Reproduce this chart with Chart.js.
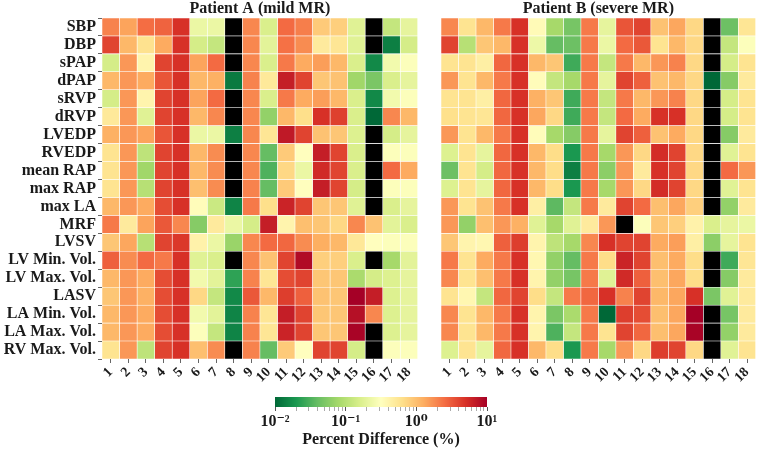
<!DOCTYPE html>
<html>
<head>
<meta charset="utf-8">
<script src="https://cdn.jsdelivr.net/npm/chart.js@4.4.1/dist/chart.umd.min.js"></script>
<style>
  body { margin: 0; background: #fff; }
  .box { position: absolute; }
</style>
</head>
<body>
<div class="box" style="left:0;top:0"><canvas id="hmA" width="422" height="390"></canvas></div>
<div class="box" style="left:439px;top:0"><canvas id="hmB" width="321" height="390"></canvas></div>
<div class="box" style="left:253px;top:388px"><canvas id="cbar" width="256" height="61"></canvas></div>
<script>
const rowLabels = ["SBP", "DBP", "sPAP", "dPAP", "sRVP", "dRVP", "LVEDP", "RVEDP", "mean RAP", "max RAP",
  "max LA", "MRF", "LVSV", "LV Min. Vol.", "LV Max. Vol.", "LASV", "LA Min. Vol.", "LA Max. Vol.", "RV Max. Vol."];
const colLabels = ["1", "2", "3", "4", "5", "6", "7", "8", "9", "10", "11", "12", "13", "14", "15", "16", "17", "18"];

// percent difference per row (parameter) and column (case); 0 = no value (black)
const patientA = [
  [2.0, 1.4, 2.5, 2.8, 5, 0.22, 0.22, 0, 1.9, 0.16, 2.6, 2.1, 0.85, 0.8, 0.18, 0, 0.12, 0.2],
  [4, 1.1, 0.6, 1.3, 5, 0.15, 0.12, 0, 1.9, 0.19, 2.4, 1.8, 0.5, 0.55, 0.18, 0, 0.014, 0.15],
  [0.15, 1.6, 0.4, 4, 5, 1.4, 2.6, 0, 1.9, 0.16, 2.2, 1.3, 1.5, 1.1, 0.16, 0.016, 0.25, 0.3],
  [1.1, 1.6, 1.3, 3.3, 5, 1.1, 1.2, 0.013, 2.0, 0.52, 6.5, 4, 0.9, 0.95, 0.075, 0.05, 0.16, 0.2],
  [0.15, 1.6, 0.4, 4, 5, 1.4, 2.6, 0, 1.9, 0.16, 2.2, 1.3, 1.5, 1.1, 0.16, 0.016, 0.25, 0.3],
  [0.52, 1.6, 0.18, 4, 5, 1.1, 1.9, 0, 1.9, 0.065, 1.1, 0.63, 5, 4.2, 0.16, 0.01, 1.9, 1.1],
  [1.2, 1.6, 1.4, 3.3, 5, 0.22, 0.22, 0.014, 1.9, 0.55, 7, 4, 0.95, 0.9, 0.17, 0, 0.15, 0.2],
  [0.58, 1.6, 0.11, 4, 5, 1.1, 1.8, 0, 1.9, 0.04, 0.85, 0.32, 6.5, 4, 0.16, 0, 0.3, 0.3],
  [0.58, 1.6, 0.075, 4, 5, 1.1, 1.8, 0, 1.9, 0.032, 0.7, 0.22, 5.5, 4, 0.16, 0, 2.6, 1.3],
  [0.58, 1.6, 0.1, 4, 5, 1.0, 1.8, 0, 2.0, 0.04, 0.85, 0.32, 6.5, 4, 0.15, 0, 0.3, 0.3],
  [1.1, 1.6, 1.3, 3.6, 5, 0.34, 0.13, 0.015, 2.2, 0.63, 6, 4, 0.9, 0.9, 0.18, 0, 0.16, 0.2],
  [2.2, 0.5, 1.4, 3.2, 1.9, 0.056, 0.5, 0.22, 0.15, 6.5, 0.4, 1.0, 0.9, 0.7, 1.9, 0.95, 0.19, 0.16],
  [0.9, 1.35, 0.1, 4, 4.6, 0.42, 0.22, 0.07, 1.9, 2.6, 2.7, 1.8, 1.25, 1.1, 0.53, 0.32, 0.3, 0.3],
  [2.9, 1.8, 2.6, 2.2, 5, 0.18, 0.16, 0, 1.9, 0.95, 4, 8.5, 0.8, 0.8, 0.16, 0, 0.08, 0.19],
  [1.1, 1.6, 1.3, 3.6, 5, 0.25, 0.19, 0.024, 2.0, 0.55, 3.6, 4, 0.9, 0.9, 0.085, 0.15, 0.17, 0.2],
  [0.9, 1.6, 1.2, 3.6, 5, 0.7, 0.12, 0.016, 3.2, 1.1, 4.3, 2.9, 0.95, 0.9, 10, 6.5, 0.17, 0.2],
  [1.1, 1.6, 1.3, 3.6, 5, 0.25, 0.19, 0.015, 2.0, 0.55, 6.5, 4, 0.9, 0.9, 8, 1.9, 0.17, 0.2],
  [1.1, 1.6, 1.3, 3.6, 5, 0.3, 0.12, 0.015, 2.0, 0.55, 6, 4, 0.9, 0.9, 9.5, 0, 0.17, 0.2],
  [0.58, 1.6, 0.11, 4, 5, 1.0, 1.8, 0, 2.0, 0.04, 0.85, 0.32, 4, 4, 0.15, 0, 0.3, 0.3]
];
const patientB = [
  [1.9, 0.58, 1.1, 2.2, 5, 0.35, 0.08, 0.048, 2.2, 0.2, 3.3, 4, 0.95, 1.35, 0.7, 0, 0.043, 0.55],
  [4, 0.1, 0.9, 1.1, 5, 0.23, 0.04, 0.043, 2.2, 0.22, 2.6, 3.2, 0.58, 1.1, 0.7, 0, 0.12, 0.3],
  [0.58, 0.58, 0.45, 2.7, 5, 1.1, 0.9, 0.028, 2.2, 0.12, 2.2, 1.1, 1.6, 2.0, 0.7, 0, 0.15, 0.58],
  [1.6, 0.58, 1.1, 2.2, 5, 0.34, 0.12, 0.08, 2.2, 0.2, 4, 2.9, 0.95, 1.1, 0.7, 0.01, 0.056, 0.5],
  [0.58, 0.58, 0.45, 2.7, 5, 1.2, 0.9, 0.028, 2.2, 0.12, 2.2, 1.1, 1.6, 2.0, 0.7, 0, 0.15, 0.58],
  [0.62, 0.58, 0.55, 2.7, 5, 1.35, 0.7, 0.028, 2.2, 0.12, 2.6, 1.3, 5, 5, 0.7, 0, 0.15, 0.58],
  [1.6, 0.58, 1.1, 2.2, 5, 0.34, 0.08, 0.056, 2.2, 0.2, 4, 2.9, 0.95, 1.3, 0.7, 0, 0.056, 0.5],
  [0.17, 0.58, 0.2, 2.7, 5, 1.1, 0.65, 0.02, 2.2, 0.08, 1.6, 0.7, 5.3, 4, 0.7, 0, 0.18, 0.58],
  [0.043, 0.58, 0.15, 2.7, 5, 1.1, 0.65, 0.014, 2.2, 0.06, 1.6, 0.5, 5, 4, 0.7, 0, 2.6, 1.6],
  [0.17, 0.58, 0.2, 2.7, 5, 1.1, 0.65, 0.02, 2.2, 0.08, 1.6, 0.7, 5.3, 4, 0.7, 0, 0.18, 0.58],
  [1.6, 0.58, 0.95, 2.2, 5, 0.45, 0.037, 0.12, 2.2, 0.5, 4, 2.6, 1.0, 1.35, 0.8, 0, 0.065, 0.5],
  [1.6, 0.065, 1.0, 1.6, 1.2, 0.18, 0.08, 0.18, 0.5, 1.6, 0, 0.3, 0.9, 0.8, 0.42, 0.16, 0.2, 0.22],
  [0.9, 0.4, 0.38, 2.9, 4.3, 0.4, 0.11, 0.08, 1.9, 5, 4, 4, 1.3, 1.5, 0.45, 0.06, 0.2, 0.58],
  [2.2, 0.58, 1.3, 2.2, 5, 0.38, 0.065, 0.04, 2.2, 0.65, 6, 4, 1.0, 1.3, 0.65, 0, 0.028, 0.55],
  [1.9, 0.58, 1.0, 2.2, 5, 0.4, 0.065, 0.048, 2.2, 0.18, 5.5, 2.9, 1.0, 1.35, 0.65, 0, 0.056, 0.5],
  [0.58, 0.38, 0.12, 2.7, 4, 0.65, 0.12, 2.2, 2.7, 5, 2.0, 4, 1.1, 1.35, 5, 0.05, 0.18, 0.5],
  [1.9, 0.58, 1.1, 2.2, 5, 0.4, 0.05, 0.085, 2.2, 0.01, 4.3, 3.6, 1.0, 1.35, 10, 0, 0.048, 0.5],
  [1.9, 0.58, 1.1, 2.2, 5, 0.4, 0.032, 0.12, 2.2, 0.58, 4, 2.7, 1.0, 1.35, 9.5, 0, 0.065, 0.5],
  [0.17, 0.58, 0.2, 2.7, 5, 1.1, 0.65, 0.02, 2.2, 0.08, 1.6, 0.7, 4.3, 4, 0.7, 0, 0.18, 0.58]
];
const cbarTicks = [0.01, 0.1, 1, 10];
const cbarTickLabels = ["10\u207B\u00B2", "10\u207B\u00B9", "10\u2070", "10\u00B9"];

const FONT = '"Liberation Serif", "DejaVu Serif", serif';
const TXT = "#1a1a1a";

// RdYlGn reversed: green (low) -> red (high)
const cmapStops = ["#006837", "#1a9850", "#66bd63", "#a6d96a", "#d9ef8b", "#ffffbf",
  "#fee08b", "#fdae61", "#f46d43", "#d73027", "#a50026"];

function hexRgb(h) {
  return [parseInt(h.slice(1, 3), 16), parseInt(h.slice(3, 5), 16), parseInt(h.slice(5, 7), 16)];
}

function cellColor(v) {
  if (!v) return "#000000";
  let t = (Math.log10(v) + 2) / 3;
  t = Math.max(0, Math.min(1, t));
  const x = t * 10;
  const i = Math.min(9, Math.floor(x));
  const f = x - i;
  const a = hexRgb(cmapStops[i]), b = hexRgb(cmapStops[i + 1]);
  const c = a.map((av, k) => Math.round(av + (b[k] - av) * f));
  return `rgb(${c[0]},${c[1]},${c[2]})`;
}

function heatmap(canvasId, title, values, showRows) {
  // one stacked dataset per column, each row one unit wide
  const datasets = colLabels.map((c, j) => ({
    label: c,
    data: rowLabels.map(() => 1),
    backgroundColor: values.map(r => cellColor(r[j])),
    borderColor: "rgba(255,255,255,0.85)",
    borderWidth: 0.6,
    borderSkipped: false,
    barPercentage: 1,
    categoryPercentage: 1
  }));

  return new Chart(document.getElementById(canvasId), {
    type: "bar",
    data: { labels: rowLabels, datasets },
    options: {
      indexAxis: "y",
      responsive: false,
      animation: false,
      devicePixelRatio: 1,
      layout: { padding: { left: showRows ? 0 : 2, right: 2, top: 0, bottom: 0 } },
      plugins: {
        legend: { display: false },
        tooltip: { enabled: false },
        title: {
          display: true,
          text: title,
          fullSize: false,
          color: TXT,
          font: { family: FONT, size: 16, weight: "bold", lineHeight: 1.125 },
          padding: { top: 0, bottom: 0 }
        }
      },
      scales: {
        x: {
          type: "linear",
          stacked: true,
          min: 0,
          max: 18,
          afterBuildTicks: s => { s.ticks = colLabels.map((c, i) => ({ value: i + 0.5 })); },
          afterFit: s => { s.height = 31; },
          ticks: {
            autoSkip: false,
            minRotation: 45,
            maxRotation: 45,
            padding: 1,
            color: TXT,
            font: { family: FONT, size: 14, weight: "bold" },
            callback: (v, i) => colLabels[i]
          },
          grid: { drawOnChartArea: false, tickLength: 4, tickColor: "#666" },
          border: { display: false }
        },
        y: {
          stacked: true,
          display: showRows,
          afterFit: s => { if (showRows) s.width = 102; },
          ticks: {
            autoSkip: false,
            padding: 2,
            color: TXT,
            font: { family: FONT, size: 16, weight: "bold" }
          },
          grid: { drawOnChartArea: false, tickLength: 4, tickColor: "#666" },
          border: { display: false }
        }
      }
    }
  });
}

heatmap("hmA", "Patient A (mild MR)", patientA, true);
heatmap("hmB", "Patient B (severe MR)", patientB, false);

// colour bar: one floating bar spanning the log axis, filled with the colormap
const cbMin = cbarTicks[0], cbMax = cbarTicks[cbarTicks.length - 1];
new Chart(document.getElementById("cbar"), {
  type: "bar",
  data: {
    labels: [""],
    datasets: [{
      data: [[cbMin, cbMax]],
      backgroundColor: ctx => {
        const area = ctx.chart.chartArea;
        if (!area) return "#ffffbf";
        const g = ctx.chart.ctx.createLinearGradient(area.left, 0, area.right, 0);
        cmapStops.forEach((c, k) => g.addColorStop(k / 10, c));
        return g;
      },
      borderWidth: 0,
      barPercentage: 1,
      categoryPercentage: 1
    }]
  },
  options: {
    indexAxis: "y",
    responsive: false,
    animation: false,
    devicePixelRatio: 1,
    layout: { padding: { left: 22, right: 22, top: 9, bottom: 0 } },
    plugins: { legend: { display: false }, tooltip: { enabled: false } },
    scales: {
      x: {
        type: "logarithmic",
        bounds: "data",
        min: cbMin,
        max: cbMax,
        afterBuildTicks: s => {
          const t = [];
          for (let d = cbMin; d < cbMax * 0.999; d *= 10) {
            for (let k = 1; k <= 9; k++) t.push({ value: k * d, major: k === 1 });
          }
          t.push({ value: cbMax, major: true });
          s.ticks = t;
          s.min = cbMin;
          s.max = cbMax;
        },
        afterFit: s => { s.height = 42; },
        ticks: {
          autoSkip: false,
          maxRotation: 0,
          padding: 1,
          color: TXT,
          font: { family: FONT, size: 16, weight: "bold" },
          callback: v => {
            const i = cbarTicks.findIndex(t => Math.abs(t - v) < t * 1e-6);
            return i >= 0 ? cbarTickLabels[i] : "";
          }
        },
        title: {
          display: true,
          text: "Percent Difference (%)",
          color: TXT,
          font: { family: FONT, size: 16, weight: "bold" },
          padding: { top: 0, bottom: 0 }
        },
        grid: {
          drawOnChartArea: false,
          tickLength: 4,
          tickColor: ctx => (ctx.tick && ctx.tick.major) ? "#555" : "#aaa"
        },
        border: { display: false }
      },
      y: { display: false }
    }
  }
});
</script>
</body>
</html>
